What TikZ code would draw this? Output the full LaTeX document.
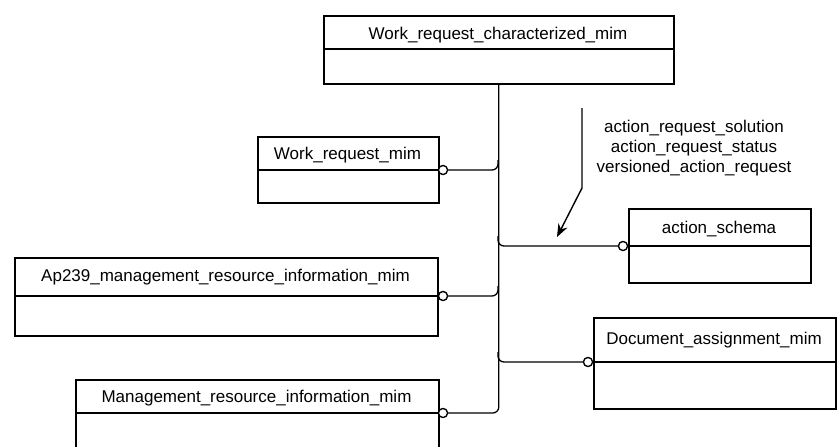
\documentclass[tikz,border=0pt]{standalone}
\usepackage{fontspec}
\setmainfont{Liberation Sans}
\usetikzlibrary{arrows.meta}
\begin{document}
\begin{tikzpicture}[x=1pt,y=-1pt,
  ent/.style={draw, line width=1.6pt, anchor=north west, inner sep=0pt},
  lbl/.style={font=\fontsize{17}{20}\selectfont, inner sep=0pt},
  circ/.style={circle, draw, fill=white, line width=1.2pt, minimum size=9pt, inner sep=0pt},
  conn/.style={line width=1.3pt, rounded corners=6pt},
  divline/.style={line width=1.6pt}]
\useasboundingbox (0,0) rectangle (838,447);

% boxes
\node[ent, minimum width=350pt, minimum height=68pt] (top) at (323,15) {};
\node[ent, minimum width=181pt, minimum height=66pt] (wr) at (257,136) {};
\node[ent, minimum width=423pt, minimum height=78pt] (ap) at (14,257) {};
\node[ent, minimum width=363pt, minimum height=80pt] (mg) at (75,379) {};
\node[ent, minimum width=182pt, minimum height=74pt] (as) at (628,208) {};
\node[ent, minimum width=242pt, minimum height=91pt] (da) at (593,317) {};

% dividers
\draw[divline] (top.west |- 0,49) -- (top.east |- 0,49);
\draw[divline] (wr.west |- 0,170) -- (wr.east |- 0,170);
\draw[divline] (ap.west |- 0,296) -- (ap.east |- 0,296);
\draw[divline] (mg.west |- 0,413) -- (mg.east |- 0,413);
\draw[divline] (as.west |- 0,246) -- (as.east |- 0,246);
\draw[divline] (da.west |- 0,362) -- (da.east |- 0,362);

% labels
\node[lbl] (ttop) at (498,35) {Work\_request\_characterized\_mim};
\node[lbl] (twr) at (347.5,155) {Work\_request\_mim};
\node[lbl] (tap) at (225.5,277) {Ap239\_management\_resource\_information\_mim};
\node[lbl] (tmg) at (256.5,398) {Management\_resource\_information\_mim};
\node[lbl] (tas) at (719,229) {action\_schema};
\node[lbl] (tda) at (714,340) {Document\_assignment\_mim};

% trunk and branch points
\coordinate (trk) at (top.south);
\coordinate (bwr) at (498,160);
\coordinate (bap) at (498,286);
\coordinate (bas) at (498,236);
\coordinate (bda) at (498,352);

% circles
\node[circ] (cwr) at (443,170) {};
\node[circ] (cap) at (443,296) {};
\node[circ] (cmg) at (443,413) {};
\node[circ] (cas) at (623,246) {};
\node[circ] (cda) at (588,362) {};

% connectors
\draw[conn] (trk) -- (trk |- cmg) -- (cmg.east);
\draw[conn] (bwr) -- (bwr |- cwr) -- (cwr.east);
\draw[conn] (bap) -- (bap |- cap) -- (cap.east);
\draw[conn] (bas) -- (bas |- cas) -- (cas.west);
\draw[conn] (bda) -- (bda |- cda) -- (cda.west);

% redraw circles over lines
\node[circ] at (cwr) {};
\node[circ] at (cap) {};
\node[circ] at (cmg) {};
\node[circ] at (cas) {};
\node[circ] at (cda) {};

% pointer arrow and its text
\coordinate (a1) at (582,108);
\coordinate (a2) at (582,188);
\coordinate (a3) at (557,237);
\draw[line width=1.4pt, -{Stealth[length=13pt,width=10pt]}] (a1) -- (a2) -- (a3);
\node[lbl, align=center] (tarr) at (694,148) {action\_request\_solution\\action\_request\_status\\versioned\_action\_request};
\end{tikzpicture}
\end{document}
